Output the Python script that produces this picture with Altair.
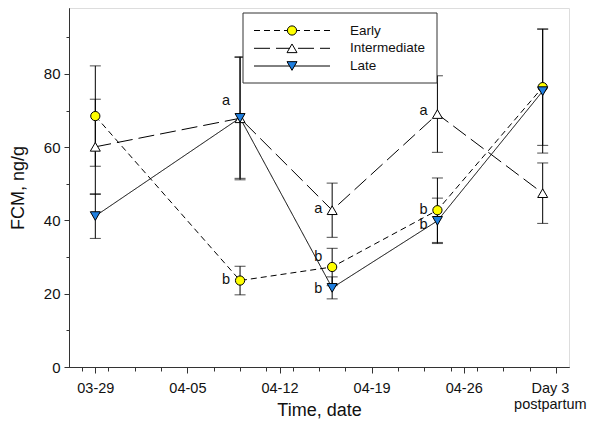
import altair as alt
import pandas as pd

# ---- data ----
groups = ["Early", "Intermediate", "Late"]
days = [0, 11, 18, 26, 34]  # days after 03-29
early_mean = [68.5, 23.6, 27.3, 42.8, 76.4]
early_err = [13.7, 3.9, 5.1, 8.8, 15.9]
inter_mean = [60.1, 67.9, 42.8, 69.05, 47.45]
inter_err = [13.0, 16.8, 7.4, 10.45, 8.25]
late_mean = [41.2, 68.0, 21.6, 39.9, 75.3]
late_err = [6.1, 16.5, 3.0, 6.2, 16.9]

tick_days = [0, 7, 14, 21, 28, 35]
tick_labels = ["03-29", "04-05", "04-12", "04-19", "04-26", "Day 3|postpartum"]
minor_days = [-1, 1, 3, 5, 9, 11, 13, 15, 17, 19, 23, 25, 27, 29, 31, 33]
y_major = [0, 20, 40, 60, 80]
y_minor = [10, 30, 50, 70, 90]

# significance letters: (group, day, label y value, letter)
letter_group = ["Intermediate", "Early", "Intermediate", "Early", "Late", "Intermediate", "Early", "Late"]
letter_day = [11, 11, 18, 18, 18, 26, 26, 26]
letter_y = [72.7, 23.7, 43.0, 30.0, 21.2, 70.0, 42.8, 38.7]
letter_txt = ["a", "b", "a", "b", "b", "a", "b", "b"]

colors = {"Early": "#ffff00", "Intermediate": "#ffffff", "Late": "#1f7fe0"}
shapes = {"Early": "circle", "Intermediate": "triangle-up", "Late": "triangle-down"}
dashes = {"Early": [6, 4], "Intermediate": [16, 6], "Late": [1, 0]}
sizes = {"Early": 85, "Intermediate": 100, "Late": 100}

rows = []
for g, m, e in [("Early", early_mean, early_err), ("Intermediate", inter_mean, inter_err), ("Late", late_mean, late_err)]:
    for d, mv, ev in zip(days, m, e):
        rows.append({"group": g, "day": d, "mean": mv, "lo": mv - ev, "hi": mv + ev})
df = pd.DataFrame(rows)
letters = pd.DataFrame({"group": letter_group, "day": letter_day, "y": letter_y, "txt": letter_txt})
one = pd.DataFrame({"k": [0]})

FONT = "Liberation Sans"

# label expression for x axis
expr = "''"
for d, lab in reversed(list(zip(tick_days, tick_labels))):
    if "|" in lab:
        parts = lab.split("|")
        val = "[" + ",".join("'%s'" % p for p in parts) + "]"
    else:
        val = "'%s'" % lab
    expr = "datum.value == %d ? %s : (%s)" % (d, val, expr)

x_scale = alt.Scale(domain=[-2, 36], nice=False, zero=False)
y_scale = alt.Scale(domain=[0, 98], nice=False)

common = dict(grid=False, domainColor="#333", tickColor="#333", labelColor="#111",
              labelFont=FONT, titleFont=FONT, titleFontWeight="normal", titleColor="#111")

x_axis = alt.Axis(
    values=tick_days, labelExpr=expr, title="Time, date", orient="bottom",
    tickSize=6, labelPadding=8, labelFontSize=14.5, titleFontSize=18,
    titleY=48, titleBaseline="alphabetic",
    labelOffset={"condition": {"test": "datum.value == 35", "value": -6}, "value": 0},
    labelLineHeight=16.5, labelOverlap=False, labelFlush=False, **common
)
y_axis = alt.Axis(
    values=y_major, title="FCM, ng/g", orient="left",
    tickSize=5, labelPadding=4, labelFontSize=15, titleFontSize=18,
    titleX=-51, titleBaseline="middle",
    labelOverlap=False, **common
)
x_minor_axis = alt.Axis(values=minor_days, orient="bottom", labels=False, title=None, tickSize=4, **common)
y_minor_axis = alt.Axis(values=y_minor, orient="left", labels=False, title=None, tickSize=3, **common)

base = alt.Chart(df)

lines = base.mark_line(color="black", strokeWidth=1).encode(
    x=alt.X("day:Q", scale=x_scale, axis=x_axis),
    y=alt.Y("mean:Q", scale=y_scale, axis=y_axis),
    strokeDash=alt.StrokeDash("group:N", scale=alt.Scale(domain=groups, range=[dashes[g] for g in groups]), legend=None),
    detail="group:N",
)
bars = base.mark_rule(color="black", strokeWidth=1).encode(
    x=alt.X("day:Q", scale=x_scale, axis=x_minor_axis),
    y=alt.Y("lo:Q", scale=y_scale, axis=y_minor_axis), y2="hi:Q"
)
cap_lo = base.mark_tick(color="black", orient="horizontal", size=11, thickness=1).encode(
    x=alt.X("day:Q", scale=x_scale, axis=None), y=alt.Y("lo:Q", scale=y_scale, axis=None)
)
cap_hi = base.mark_tick(color="black", orient="horizontal", size=11, thickness=1).encode(
    x=alt.X("day:Q", scale=x_scale, axis=None), y=alt.Y("hi:Q", scale=y_scale, axis=None)
)
points = []
for g in groups:
    points.append(
        alt.Chart(df[df.group == g]).mark_point(
            shape=shapes[g], filled=True, fill=colors[g], stroke="black", strokeWidth=1,
            size=sizes[g], opacity=1,
        ).encode(x=alt.X("day:Q", scale=x_scale, axis=None), y=alt.Y("mean:Q", scale=y_scale, axis=None))
    )
text = alt.Chart(letters).mark_text(fontSize=14.5, font=FONT, color="#111", dx=-14, align="center", baseline="middle").encode(
    x=alt.X("day:Q", scale=x_scale, axis=None), y=alt.Y("y:Q", scale=y_scale, axis=None), text="txt:N"
)

# legend box (drawn in pixel space)
leg_layers = [
    alt.Chart(one).mark_rect(fill="white", stroke="#333", strokeWidth=1).encode(
        x=alt.value(174), x2=alt.value(368), y=alt.value(5), y2=alt.value(75)
    )
]
leg_y = [22.5, 40.3, 58]
for g, yy in zip(groups, leg_y):
    leg_layers.append(alt.Chart(one).mark_rule(color="black", strokeWidth=1, strokeDash=dashes[g]).encode(
        x=alt.value(185), x2=alt.value(261), y=alt.value(yy)))
    leg_layers.append(alt.Chart(one).mark_point(shape=shapes[g], filled=True, fill=colors[g], stroke="black",
                                                 strokeWidth=1, size=sizes[g], opacity=1).encode(
        x=alt.value(223), y=alt.value(yy)))
    leg_layers.append(alt.Chart(one).mark_text(text=g, fontSize=13.5, font=FONT, color="#111", align="left",
                                                baseline="middle").encode(x=alt.value(281), y=alt.value(yy)))

chart = alt.layer(lines, bars, cap_lo, cap_hi, *points, text, *leg_layers).resolve_axis(
    x="independent", y="independent"
).properties(
    width=500, height=359,
    autosize=alt.AutoSizeParams(type="none"),
    padding={"left": 61, "top": 0, "right": 18, "bottom": 52},
).configure_view(stroke="#444", strokeWidth=1).configure(background="white")

chart.save("out.html", embed_options={"renderer": "svg", "actions": False})
